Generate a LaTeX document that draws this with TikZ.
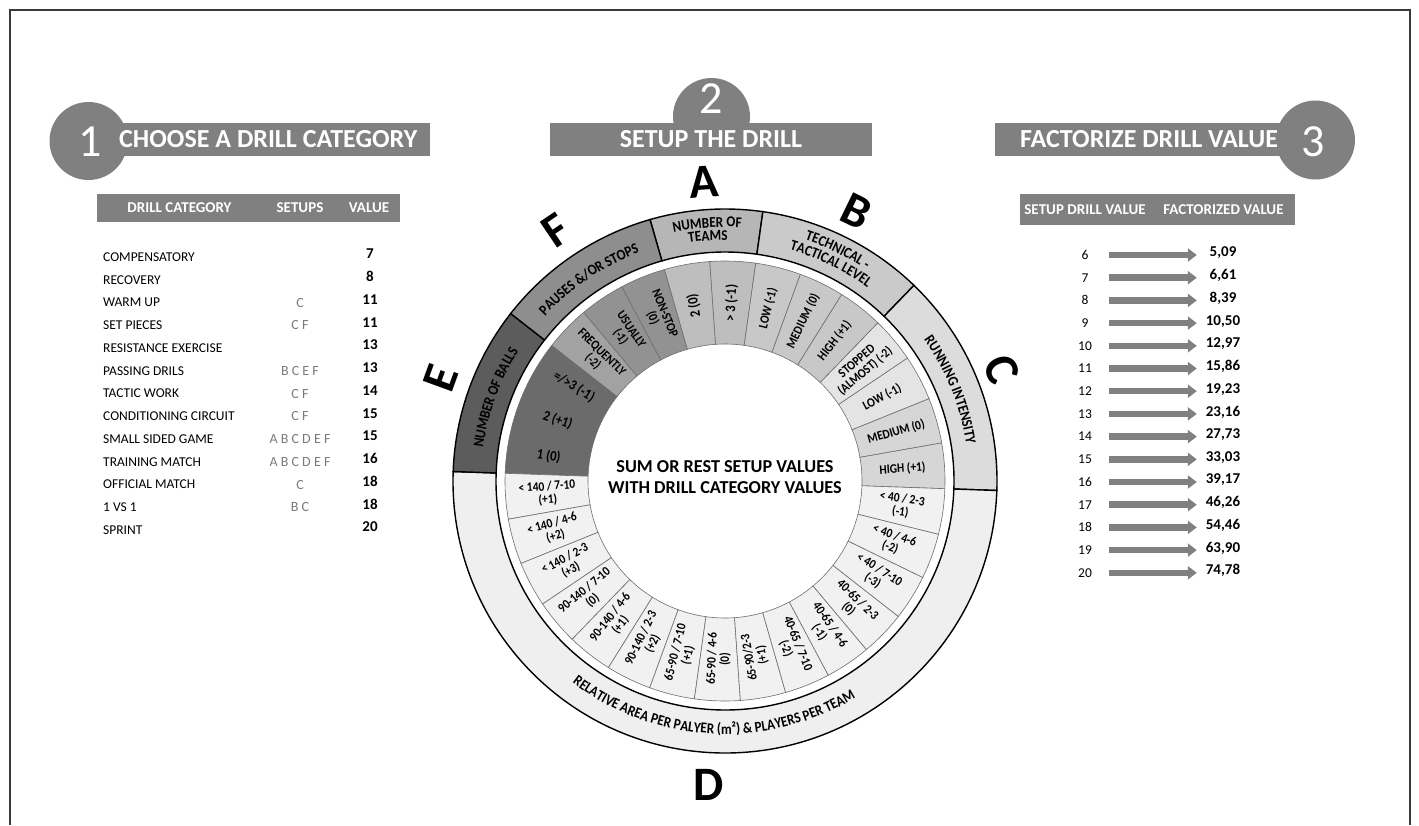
\documentclass[tikz,border=0pt]{standalone}
\usepackage{fontspec}
\setmainfont{Carlito}
\newfontfamily\wheelfont[FakeStretch=0.88]{Carlito}
\usetikzlibrary{arrows.meta,positioning,calc,decorations.text}

\definecolor{bannergray}{HTML}{808080}
\definecolor{framegray}{HTML}{3A3A3A}
\definecolor{setgray}{HTML}{7A7A7A}
\definecolor{ringline}{HTML}{6E6E6E}
\definecolor{outA}{HTML}{B6B6B6}
\definecolor{outB}{HTML}{CACACA}
\definecolor{outC}{HTML}{DCDCDC}
\definecolor{outD}{HTML}{EFEFEF}
\definecolor{outE}{HTML}{5C5C5C}
\definecolor{outF}{HTML}{8E8E8E}
\definecolor{inA}{HTML}{BEBEBE}
\definecolor{inB}{HTML}{C8C8C8}
\definecolor{inCa}{HTML}{D6D6D6}
\definecolor{inCb}{HTML}{E4E4E4}
\definecolor{inD}{HTML}{F1F1F1}
\definecolor{inE}{HTML}{6B6B6B}
\definecolor{inF}{HTML}{929292}
\definecolor{inFb}{HTML}{A2A2A2}

\newcommand{\ringfont}{\wheelfont\bfseries\fontsize{15}{15}\selectfont}
\newcommand{\ringfontD}{\wheelfont\bfseries\fontsize{15}{15}\selectfont}
\newcommand{\bigseg}{\fontsize{14.5}{15}\selectfont}

\begin{document}
\begin{tikzpicture}[x=1pt,y=1pt,
  banner/.style={fill=bannergray},
  bannertxt/.style={text=white,font=\fontsize{26}{28}\selectfont\bfseries,inner sep=0pt},
  stepnum/.style={text=white,font=\fontsize{46}{46}\selectfont,inner sep=0pt},
  headtxt/.style={text=white,font=\fontsize{15}{16}\selectfont\bfseries,inner sep=0pt},
  rowlbl/.style={font=\fontsize{13.5}{15}\selectfont,inner sep=0pt,anchor=west},
  setlbl/.style={text=setgray,font=\fontsize{14}{15}\selectfont,inner sep=0pt},
  vallbl/.style={font=\fontsize{15}{16}\selectfont\bfseries,inner sep=0pt},
  factarrow/.style={draw=bannergray,line width=6.5pt,-{Triangle[length=9pt,width=13pt]}},
  inlbl/.style={font=\wheelfont\bfseries\fontsize{13}{13}\selectfont,align=center,inner sep=0pt},
  bigletter/.style={font=\fontsize{48}{48}\selectfont\bfseries,inner sep=0pt},
  arclbl/.style={decorate,decoration={text along path,text align=center,text={#1}}}]
\useasboundingbox (0,0) rectangle (1419,-825);
\draw[framegray,line width=1.6pt] (10,-825) -- (10,-10) -- (1410,-10) -- (1410,-825);

\fill[banner] (100,-123) rectangle (430,-156);
\fill[banner] (88.5,-141) circle (39);
\node[stepnum] (num1) at (90,-142) {1};
\node[bannertxt,anchor=west] (title1) at (119,-139.5) {CHOOSE A DRILL CATEGORY};

\fill[banner] (550,-123) rectangle (872,-156);
\fill[banner] (711.5,-116.5) circle (38.5);
\node[stepnum] (num2) at (711.5,-99) {2};
\node[bannertxt] (title2) at (711,-139.5) {SETUP THE DRILL};

\fill[banner] (995,-123) rectangle (1300,-156);
\fill[banner] (1315.5,-140) circle (39.5);
\node[stepnum] (num3) at (1313,-142) {3};
\node[bannertxt,anchor=west] (title3) at (1020,-139.5) {FACTORIZE DRILL VALUE};

\fill[banner] (97,-194) rectangle (400,-222);
\node[headtxt] (hcat) at (179.5,-208) {DRILL CATEGORY};
\node[headtxt] (hset) at (300,-208) {SETUPS};
\node[headtxt] (hval) at (369,-208) {VALUE};
\foreach \i/\cat/\set/\val in {1/COMPENSATORY//7, 2/RECOVERY//8, 3/WARM UP/C/11,
  4/SET PIECES/C F/11, 5/RESISTANCE EXERCISE//13, 6/PASSING DRILS/B C E F/13,
  7/TACTIC WORK/C F/14, 8/CONDITIONING CIRCUIT/C F/15, 9/SMALL SIDED GAME/A B C D E F/15,
  10/TRAINING MATCH/A B C D E F/16, 11/OFFICIAL MATCH/C/18, 12/1 VS 1/B C/18, 13/SPRINT//20} {
  \node[rowlbl] (cat\i) at (103,{-257-22.75*(\i-1)}) {\cat};
  \node[setlbl] (set\i) at (300,{-257-22.75*(\i-1)}) {\set};
  \node[vallbl] (val\i) at (370,{-254-22.75*(\i-1)}) {\val};
}

\fill[banner] (1020,-194) rectangle (1295,-225);
\node[headtxt] (hsetup) at (1085,-209.5) {SETUP DRILL VALUE};
\node[headtxt] (hfact) at (1223.5,-209.5) {FACTORIZED VALUE};
\foreach \i/\v in {6/{5,09},7/{6,61},8/{8,39},9/{10,50},10/{12,97},11/{15,86},12/{19,23},
  13/{23,16},14/{27,73},15/{33,03},16/{39,17},17/{46,26},18/{54,46},19/{63,90},20/{74,78}} {
  \node[rowlbl,anchor=center,minimum width=48pt] (sd\i) at (1085,{-255-22.7*(\i-6)}) {\i};
  \node[vallbl,minimum width=52pt] (fv\i) at (1223,{-253-22.7*(\i-6)}) {\v};
  \draw[factarrow] (sd\i.east) -- (sd\i.east -| fv\i.west);
}

\coordinate (wc) at (725,-481);
\foreach \a/\rot/\col/\txt in {4/4/inCa/{HIGH (+1)}, 16/16/inCa/{MEDIUM (0)}, 28/28/inCb/{LOW (-1)},
  40/40/inCb/{STOPPED\\(ALMOST) (-2)}, 52/52/inB/{HIGH (+1)}, 64/64/inB/{MEDIUM (0)}, 76/76/inB/{LOW (-1)},
  88/88/inA/{\bigseg > 3 (-1)}, 100/100/inA/{\bigseg 2 (0)}, 112/-68/inF/{NON-STOP\\(0)}, 124/-56/inF/{USUALLY\\(-1)},
  136/-44/inFb/{FREQUENTLY\\(-2)}, 148/-32/inE/{\bigseg =/>3 (-1)}, 160/-20/inE/{\bigseg 2 (+1)}, 172/-8/inE/{\bigseg 1 (0)},
  184/4/inD/{< 140 / 7-10\\(+1)}, 196/16/inD/{< 140 / 4-6\\(+2)}, 208/28/inD/{< 140 / 2-3\\(+3)},
  220/40/inD/{90-140 / 7-10\\(0)}, 232/52/inD/{90-140 / 4-6\\(+1)}, 244/64/inD/{90-140 / 2-3\\(+2)},
  256/76/inD/{65-90 / 7-10\\(+1)}, 268/88/inD/{65-90 / 4-6\\(0)}, 280/100/inD/{65-90/2-3\\(+1)},
  292/-68/inD/{40-65 / 7-10\\(-2)}, 304/-56/inD/{40-65 / 4-6\\(-1)}, 316/-44/inD/{40-65 / 2-3\\(0)},
  328/-32/inD/{< 40 / 7-10\\(-3)}, 340/-20/inD/{< 40 / 4-6\\(-2)}, 352/-8/inD/{< 40 / 2-3\\(-1)}} {
  \filldraw[fill=\col,draw=ringline,line width=0.6pt] ($(wc)+(\a-6:137)$) arc[start angle=\a-6,end angle=\a+6,radius=137]
    -- ($(wc)+(\a+6:220)$) arc[start angle=\a+6,end angle=\a-6,radius=220] -- cycle;
  \node[inlbl,rotate=\rot] (sg\a) at ($(wc)+(\a:178)$) {\txt};
}
\foreach \s/\e/\col in {82/106/outA,46/82/outB,-2/46/outC,178/358/outD,142/178/outE,106/142/outF}
  \filldraw[fill=\col,draw=black,line width=1.4pt] ($(wc)+(\s:229)$) arc[start angle=\s,end angle=\e,radius=229]
    -- ($(wc)+(\e:272)$) arc[start angle=\e,end angle=\s,radius=272] -- cycle;

\path[arclbl={|\ringfont|NUMBER OF}] ($(wc)+(124:254)$) arc[start angle=124,end angle=64,radius=254];
\path[arclbl={|\ringfont|TEAMS}] ($(wc)+(124:241)$) arc[start angle=124,end angle=64,radius=241];
\path[arclbl={|\ringfont|TECHNICAL -}] ($(wc)+(94:254)$) arc[start angle=94,end angle=34,radius=254];
\path[arclbl={|\ringfont|TACTICAL LEVEL}] ($(wc)+(94:240)$) arc[start angle=94,end angle=34,radius=240];
\path[arclbl={|\ringfont|RUNNING INTENSITY}] ($(wc)+(52:244)$) arc[start angle=52,end angle=-8,radius=244];
\path[arclbl={|\ringfontD|RELATIVE AREA PER PALYER (m²) {\&} PLAYERS PER TEAM}] ($(wc)+(187:253)$) arc[start angle=187,end angle=347,radius=253];
\path[arclbl={|\ringfont|NUMBER OF BALLS}] ($(wc)+(190:244)$) arc[start angle=190,end angle=130,radius=244];
\path[arclbl={|\ringfont|PAUSES {\&}/OR STOPS}] ($(wc)+(154:244)$) arc[start angle=154,end angle=94,radius=244];

\node[bigletter,rotate=4] (lA) at ($(wc)+(94:300)$) {A};
\node[bigletter,rotate=-26] (lB) at ($(wc)+(64:300)$) {B};
\node[bigletter,rotate=-68] (lC) at ($(wc)+(22:298)$) {C};
\node[bigletter] (lD) at ($(wc)+(267:304)$) {D};
\node[bigletter,rotate=70] (lE) at ($(wc)+(160:302)$) {E};
\node[bigletter,rotate=34] (lF) at ($(wc)+(124:302)$) {F};

\node[font=\fontsize{18.2}{20.5}\selectfont\bfseries,align=center,inner sep=0pt] (sum) at (725,-477) {SUM OR REST SETUP VALUES\\WITH DRILL CATEGORY VALUES};
\end{tikzpicture}
\end{document}
